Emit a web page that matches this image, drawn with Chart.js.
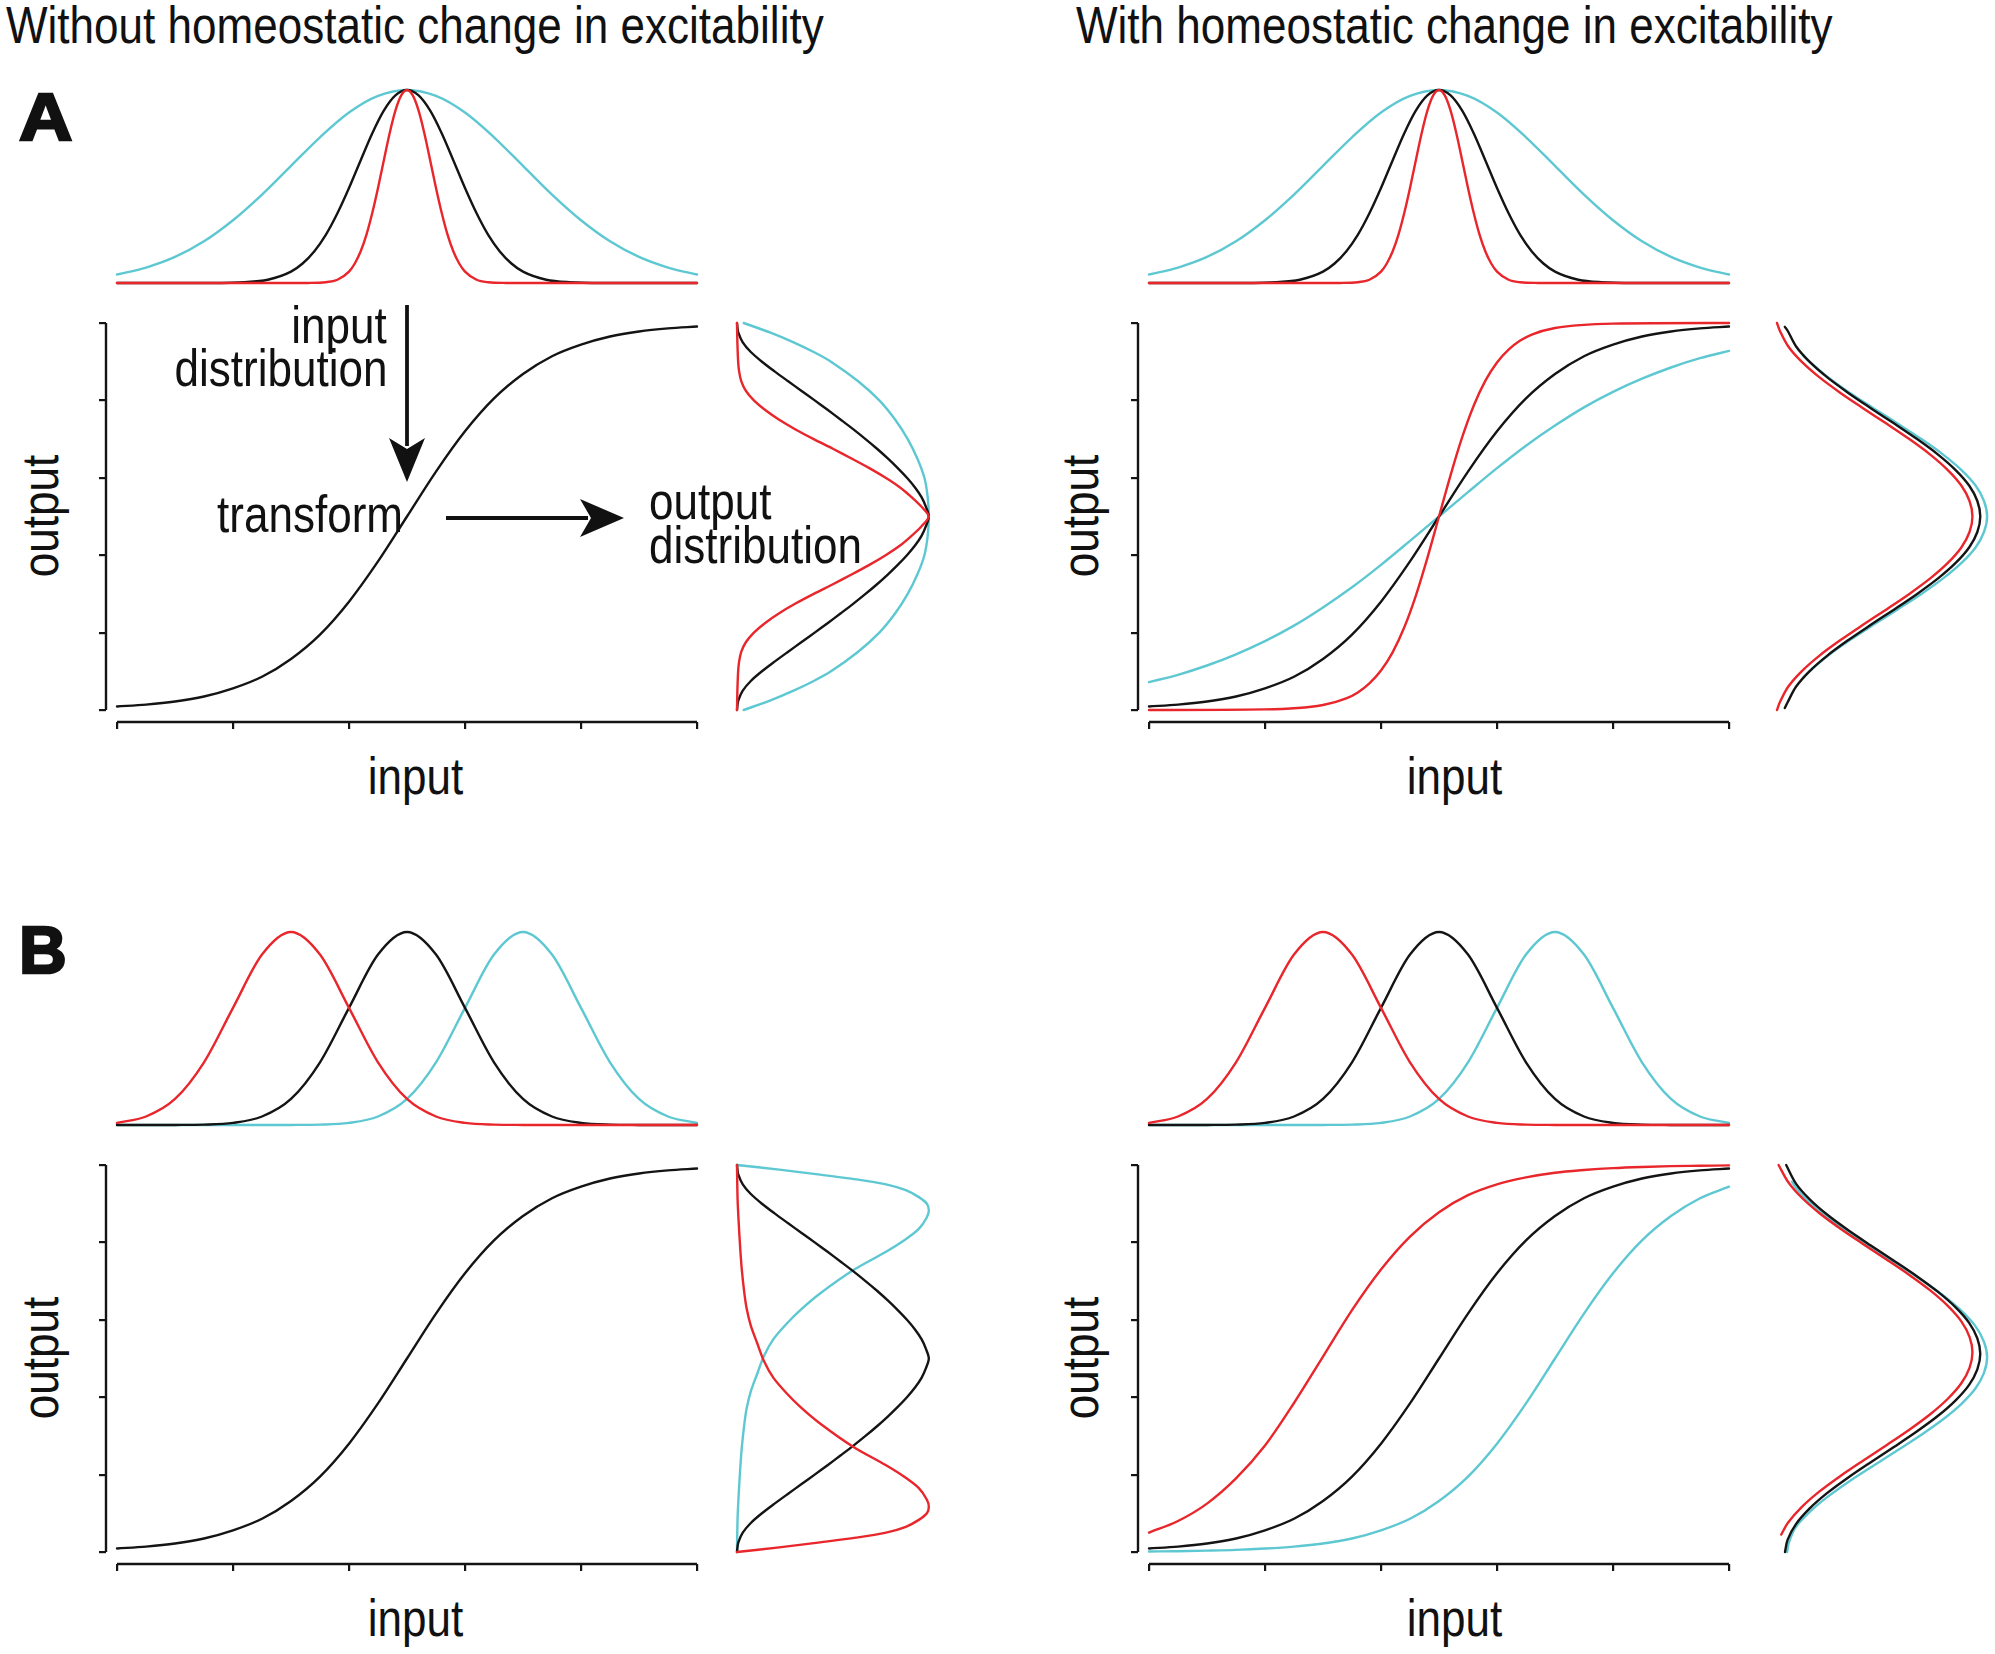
<!DOCTYPE html>
<html><head><meta charset="utf-8">
<script src="https://cdn.jsdelivr.net/npm/chart.js@4.4.1/dist/chart.umd.min.js"></script>
<style>
html,body{margin:0;padding:0;background:#fff;}
#fig{position:relative;width:1995px;height:1654px;overflow:hidden;background:#fff;}
canvas{position:absolute;}
.t{position:absolute;font-family:"Liberation Sans",Arial,Helvetica,sans-serif;white-space:nowrap;color:#111;}
svg{position:absolute;left:0;top:0;}
</style></head><body><div id="fig"></div>
<script>
// ---------- data ----------
const xGrid = [0,0.25,0.5,0.75,1,1.25,1.5,1.75,2,2.25,2.5,2.75,3,3.25,3.5,3.75,4,4.25,4.5,4.75,5];
const ticksX = [0,1,2,3,4,5];
const ticksY = [0,0.2,0.4,0.6,0.8,1];

// A: input distributions (same mean, different widths)
const aInRed = [[0,0],[1.5,0],[1.65,0.0003],[1.8,0.004],[1.9,0.017],[2.0,0.059],[2.05,0.101],[2.1,0.163],[2.15,0.249],[2.2,0.361],[2.25,0.492],[2.3,0.635],[2.35,0.775],[2.4,0.893],[2.45,0.972],[2.5,1],[2.55,0.972],[2.6,0.893],[2.65,0.775],[2.7,0.635],[2.75,0.492],[2.8,0.361],[2.85,0.249],[2.9,0.163],[2.95,0.101],[3.0,0.059],[3.1,0.017],[3.2,0.004],[3.35,0.0003],[3.5,0],[5,0]];
const aInBlack = [[0,0],[0.8,0.0003],[1.1,0.004],[1.3,0.017],[1.5,0.059],[1.6,0.101],[1.7,0.163],[1.8,0.249],[1.9,0.361],[2.0,0.492],[2.1,0.635],[2.2,0.775],[2.3,0.893],[2.4,0.972],[2.5,1],[2.6,0.972],[2.7,0.893],[2.8,0.775],[2.9,0.635],[3.0,0.492],[3.1,0.361],[3.2,0.249],[3.3,0.163],[3.4,0.101],[3.5,0.059],[3.7,0.017],[3.9,0.004],[4.2,0.0003],[5,0]];
const aInCyan = [0.044,0.080,0.135,0.216,0.325,0.458,0.607,0.755,0.883,0.969,1,0.969,0.883,0.755,0.607,0.458,0.325,0.216,0.135,0.080,0.044];

// transforms
const sigBlack = [0.009,0.014,0.022,0.035,0.056,0.086,0.132,0.195,0.280,0.384,0.5,0.616,0.720,0.805,0.868,0.914,0.944,0.965,0.978,0.986,0.991];
const aSigRed = [[0,0],[1.0,0.0015],[1.5,0.013],[1.7,0.030],[1.8,0.0455],[1.9,0.069],[2.0,0.102],[2.1,0.149],[2.2,0.213],[2.3,0.295],[2.4,0.393],[2.5,0.5],[2.6,0.607],[2.7,0.705],[2.8,0.787],[2.9,0.851],[3.0,0.898],[3.1,0.931],[3.2,0.9545],[3.3,0.970],[3.5,0.987],[4.0,0.9985],[5,1]];
const aSigCyan = [0.072,0.091,0.115,0.144,0.178,0.218,0.265,0.317,0.375,0.437,0.5,0.563,0.625,0.683,0.735,0.782,0.822,0.856,0.885,0.909,0.928];

// A: output distributions [density, output]
const aLOutRed = [[0,1],[0.002,0.95],[0.006,0.9],[0.011,0.875],[0.022,0.85],[0.046,0.825],[0.088,0.8],[0.147,0.775],[0.22,0.75],[0.305,0.725],[0.40,0.7],[0.50,0.675],[0.597,0.65],[0.69,0.625],[0.775,0.6],[0.85,0.575],[0.91,0.55],[0.962,0.525],[1,0.5],[0.962,0.475],[0.91,0.45],[0.85,0.425],[0.775,0.4],[0.69,0.375],[0.597,0.35],[0.50,0.325],[0.40,0.3],[0.305,0.275],[0.22,0.25],[0.147,0.225],[0.088,0.2],[0.046,0.175],[0.022,0.15],[0.011,0.125],[0.006,0.1],[0.002,0.05],[0,0]];
const aLOutBlack = [[0,1],[0.002,0.99],[0.007,0.975],[0.030,0.95],[0.072,0.925],[0.13,0.9],[0.196,0.875],[0.265,0.85],[0.335,0.825],[0.405,0.8],[0.474,0.775],[0.541,0.75],[0.607,0.725],[0.67,0.7],[0.73,0.675],[0.786,0.65],[0.838,0.625],[0.886,0.6],[0.928,0.575],[0.962,0.55],[0.985,0.525],[1,0.5],[0.985,0.475],[0.962,0.45],[0.928,0.425],[0.886,0.4],[0.838,0.375],[0.786,0.35],[0.73,0.325],[0.67,0.3],[0.607,0.275],[0.541,0.25],[0.474,0.225],[0.405,0.2],[0.335,0.175],[0.265,0.15],[0.196,0.125],[0.13,0.1],[0.072,0.075],[0.030,0.05],[0.007,0.025],[0.002,0.01],[0,0]];
const aLOutCyan = [[0.035,1],[0.175,0.975],[0.295,0.95],[0.40,0.925],[0.49,0.9],[0.63,0.85],[0.742,0.8],[0.825,0.75],[0.89,0.7],[0.94,0.65],[0.977,0.6],[0.994,0.55],[1,0.5],[0.994,0.45],[0.977,0.4],[0.94,0.35],[0.89,0.3],[0.825,0.25],[0.742,0.2],[0.63,0.15],[0.49,0.1],[0.40,0.075],[0.295,0.05],[0.175,0.025],[0.035,0]];
const aROutRed = [[0,1],[0.0145,0.98],[0.057,0.94],[0.126,0.90],[0.216,0.86],[0.323,0.82],[0.440,0.78],[0.560,0.74],[0.677,0.70],[0.784,0.66],[0.874,0.62],[0.943,0.58],[0.985,0.54],[1,0.5],[0.985,0.46],[0.943,0.42],[0.874,0.38],[0.784,0.34],[0.677,0.30],[0.560,0.26],[0.440,0.22],[0.323,0.18],[0.216,0.14],[0.126,0.10],[0.057,0.06],[0.0145,0.02],[0,0]];
const aROutBlack = [[0.04,0.99],[0.0545,0.98],[0.097,0.94],[0.166,0.90],[0.256,0.86],[0.363,0.82],[0.480,0.78],[0.600,0.74],[0.717,0.70],[0.824,0.66],[0.914,0.62],[0.983,0.58],[1.025,0.54],[1.04,0.5],[1.025,0.46],[0.983,0.42],[0.914,0.38],[0.824,0.34],[0.717,0.30],[0.600,0.26],[0.480,0.22],[0.363,0.18],[0.256,0.14],[0.166,0.10],[0.097,0.06],[0.0545,0.02],[0.04,0.005]];
const aROutCyan = [[0.133,0.917],[0.166,0.90],[0.260,0.86],[0.371,0.82],[0.493,0.78],[0.617,0.74],[0.739,0.70],[0.850,0.66],[0.944,0.62],[1.016,0.58],[1.059,0.54],[1.075,0.5],[1.059,0.46],[1.016,0.42],[0.944,0.38],[0.850,0.34],[0.739,0.30],[0.617,0.26],[0.493,0.22],[0.371,0.18],[0.260,0.14],[0.166,0.10],[0.133,0.083]];

// B: input distributions (same width, shifted means)
const bInRed = [0.011,0.044,0.135,0.325,0.607,0.883,1,0.883,0.607,0.325,0.135,0.044,0.011,0.002,0.0003,0,0,0,0,0,0];
const bInBlack = [0,0,0.0003,0.002,0.011,0.044,0.135,0.325,0.607,0.883,1,0.883,0.607,0.325,0.135,0.044,0.011,0.002,0.0003,0,0];
const bInCyan = [0,0,0,0,0,0,0.0003,0.002,0.011,0.044,0.135,0.325,0.607,0.883,1,0.883,0.607,0.325,0.135,0.044,0.011];
const bSigRed = [0.050,0.080,0.125,0.190,0.275,0.385,0.505,0.625,0.730,0.815,0.878,0.922,0.950,0.968,0.980,0.987,0.992,0.995,0.997,0.998,0.999];
const bSigCyan = [0.0014,0.002,0.0035,0.0055,0.009,0.014,0.022,0.035,0.056,0.086,0.132,0.195,0.280,0.384,0.5,0.616,0.720,0.805,0.868,0.914,0.944];

// B: output distributions [density, output]
const bLOutRed = [[0,1],[0.003,0.913],[0.009,0.85],[0.017,0.783],[0.025,0.73],[0.038,0.67],[0.05,0.63],[0.072,0.585],[0.105,0.54],[0.141,0.493],[0.19,0.45],[0.261,0.409],[0.33,0.375],[0.433,0.332],[0.605,0.272],[0.777,0.224],[0.87,0.195],[0.948,0.165],[0.99,0.135],[1,0.117],[0.99,0.1],[0.948,0.083],[0.88,0.065],[0.777,0.05],[0.62,0.037],[0.433,0.025],[0.22,0.012],[0,0]];
const bLOutBlack = [[0,1],[0.002,0.99],[0.007,0.975],[0.030,0.95],[0.072,0.925],[0.13,0.9],[0.196,0.875],[0.265,0.85],[0.335,0.825],[0.405,0.8],[0.474,0.775],[0.541,0.75],[0.607,0.725],[0.67,0.7],[0.73,0.675],[0.786,0.65],[0.838,0.625],[0.886,0.6],[0.928,0.575],[0.962,0.55],[0.985,0.525],[1,0.5],[0.985,0.475],[0.962,0.45],[0.928,0.425],[0.886,0.4],[0.838,0.375],[0.786,0.35],[0.73,0.325],[0.67,0.3],[0.607,0.275],[0.541,0.25],[0.474,0.225],[0.405,0.2],[0.335,0.175],[0.265,0.15],[0.196,0.125],[0.13,0.1],[0.072,0.075],[0.030,0.05],[0.007,0.025],[0.002,0.01],[0,0]];
const bLOutCyan = [[0,1],[0.22,0.988],[0.433,0.975],[0.62,0.963],[0.777,0.95],[0.88,0.935],[0.948,0.917],[0.99,0.9],[1,0.883],[0.99,0.865],[0.948,0.835],[0.87,0.805],[0.777,0.776],[0.605,0.728],[0.433,0.668],[0.33,0.625],[0.261,0.591],[0.19,0.55],[0.141,0.507],[0.105,0.46],[0.072,0.415],[0.05,0.37],[0.038,0.33],[0.025,0.27],[0.017,0.217],[0.009,0.15],[0.003,0.087],[0,0]];
const bROutRed = [[0.008,1],[0.057,0.956],[0.126,0.916],[0.216,0.876],[0.323,0.836],[0.440,0.796],[0.560,0.756],[0.677,0.716],[0.784,0.676],[0.874,0.636],[0.943,0.596],[0.985,0.556],[1,0.516],[0.985,0.476],[0.943,0.436],[0.874,0.396],[0.784,0.356],[0.677,0.316],[0.560,0.276],[0.440,0.236],[0.323,0.196],[0.216,0.156],[0.126,0.116],[0.057,0.076],[0.0215,0.045]];
const bROutBlack = [[0.047,1],[0.097,0.952],[0.166,0.912],[0.256,0.872],[0.363,0.832],[0.480,0.792],[0.600,0.752],[0.717,0.712],[0.824,0.672],[0.914,0.632],[0.983,0.592],[1.025,0.552],[1.04,0.512],[1.025,0.472],[0.983,0.432],[0.914,0.392],[0.824,0.352],[0.717,0.312],[0.600,0.272],[0.480,0.232],[0.363,0.192],[0.256,0.152],[0.166,0.112],[0.097,0.072],[0.0545,0.032],[0.041,0]];
const bROutCyan = [[0.077,0.957],[0.094,0.943],[0.166,0.903],[0.260,0.863],[0.371,0.823],[0.493,0.783],[0.617,0.743],[0.739,0.703],[0.850,0.663],[0.944,0.623],[1.016,0.583],[1.059,0.543],[1.075,0.503],[1.059,0.463],[1.016,0.423],[0.944,0.383],[0.850,0.343],[0.739,0.303],[0.617,0.263],[0.493,0.223],[0.371,0.183],[0.260,0.143],[0.166,0.103],[0.094,0.063],[0.06,0.023],[0.052,0]];

// ---------- styling / layout ----------
const RED = '#e8262b', CYAN = '#5ec8d2', BLACK = '#141414';
const LW = 2.4;
const fig = document.getElementById('fig');

function addCanvas(l, t, w, h) {
  const c = document.createElement('canvas');
  c.width = Math.round(w); c.height = Math.round(h);
  c.style.left = l + 'px'; c.style.top = t + 'px';
  c.style.width = Math.round(w) + 'px'; c.style.height = Math.round(h) + 'px';
  fig.appendChild(c);
  return c;
}
const gridXY = ys => xGrid.map((x, i) => ({x, y: ys[i]}));
const pairs = p => p.map(([x, y]) => ({x, y}));
function fnDs(data, color) {
  return {data, borderColor: color, borderWidth: LW, pointRadius: 0, fill: false, clip: false,
          cubicInterpolationMode: 'monotone', borderCapStyle: 'round', borderJoinStyle: 'round'};
}
function pathDs(data, color) {
  return {data, borderColor: color, borderWidth: LW, pointRadius: 0, fill: false, clip: false,
          tension: 0.3, borderCapStyle: 'round', borderJoinStyle: 'round'};
}
const baseOpts = {
  responsive: false, maintainAspectRatio: false, animation: false, events: [],
  plugins: {legend: {display: false}, tooltip: {enabled: false}}
};

function plainChart(area, xr, yr, datasets) {
  const P = 8;
  const c = addCanvas(area.l - P, area.t - P, area.r - area.l + 2 * P, area.b - area.t + 2 * P);
  new Chart(c, {
    type: 'line', data: {datasets},
    options: Object.assign({}, baseOpts, {
      layout: {padding: P},
      scales: {
        x: {type: 'linear', min: xr[0], max: xr[1], display: false},
        y: {type: 'linear', min: yr[0], max: yr[1], display: false}
      }
    })
  });
}

// main transform chart with R-style detached axes
const X_MIN = -11 / 116, Y_MIN = -12 / 387;
function mainChart(dx, dy, datasets) {
  const l = 106 + dx, r = 697 + dx, t = 323 + dy, b = 722 + dy;
  const AW = 12, AH = 12, P = 6;
  const c = addCanvas(l - AW - P, t - P, (r - l) + AW + 2 * P, (b - t) + AH + 2 * P);
  const tickGrid = {display: true, drawOnChartArea: false, drawTicks: true, tickLength: 7, lineWidth: 2.2, color: BLACK};
  const axisLines = [
    {data: [{x: X_MIN, y: ticksY[0]}, {x: X_MIN, y: ticksY[ticksY.length - 1]}], borderColor: BLACK, borderWidth: LW, pointRadius: 0, clip: false, tension: 0},
    {data: [{x: ticksX[0], y: Y_MIN}, {x: ticksX[ticksX.length - 1], y: Y_MIN}], borderColor: BLACK, borderWidth: LW, pointRadius: 0, clip: false, tension: 0}
  ];
  new Chart(c, {
    type: 'line', data: {datasets: datasets.concat(axisLines)},
    options: Object.assign({}, baseOpts, {
      layout: {padding: {left: P, right: P, top: P, bottom: P}},
      scales: {
        x: {type: 'linear', position: 'bottom', min: X_MIN, max: 5,
            afterFit: s => { s.height = AH; },
            afterBuildTicks: s => { s.ticks = ticksX.map(v => ({value: v})); },
            grid: tickGrid, border: {display: false}, ticks: {display: false}},
        y: {type: 'linear', position: 'left', min: Y_MIN, max: 1,
            afterFit: s => { s.width = AW; },
            afterBuildTicks: s => { s.ticks = ticksY.map(v => ({value: v})); },
            grid: tickGrid, border: {display: false}, ticks: {display: false}}
      }
    })
  });
}

function topChart(dx, dy, datasets) {
  plainChart({l: 117 + dx, r: 697 + dx, t: 90 + dy, b: 283 + dy}, [0, 5], [0, 1], datasets);
}
function outChart(base, scale, dy, datasets) {
  plainChart({l: base, r: base + scale * 1.1, t: 323 + dy, b: 710 + dy}, [0, 1.1], [0, 1], datasets);
}

const DXR = 1032, DYB = 842;

// Panel A left
topChart(0, 0, [fnDs(pairs(aInRed), RED), fnDs(pairs(aInBlack), BLACK), fnDs(gridXY(aInCyan), CYAN)]);
mainChart(0, 0, [fnDs(gridXY(sigBlack), BLACK)]);
outChart(737, 192, 0, [pathDs(pairs(aLOutRed), RED), pathDs(pairs(aLOutBlack), BLACK), pathDs(pairs(aLOutCyan), CYAN)]);
// Panel A right
topChart(DXR, 0, [fnDs(pairs(aInRed), RED), fnDs(pairs(aInBlack), BLACK), fnDs(gridXY(aInCyan), CYAN)]);
mainChart(DXR, 0, [fnDs(pairs(aSigRed), RED), fnDs(gridXY(sigBlack), BLACK), fnDs(gridXY(aSigCyan), CYAN)]);
outChart(1777, 195.7, 0, [pathDs(pairs(aROutRed), RED), pathDs(pairs(aROutBlack), BLACK), pathDs(pairs(aROutCyan), CYAN)]);
// Panel B left
topChart(0, DYB, [fnDs(gridXY(bInRed), RED), fnDs(gridXY(bInBlack), BLACK), fnDs(gridXY(bInCyan), CYAN)]);
mainChart(0, DYB, [fnDs(gridXY(sigBlack), BLACK)]);
outChart(737, 192, DYB, [pathDs(pairs(bLOutRed), RED), pathDs(pairs(bLOutBlack), BLACK), pathDs(pairs(bLOutCyan), CYAN)]);
// Panel B right
topChart(DXR, DYB, [fnDs(gridXY(bInRed), RED), fnDs(gridXY(bInBlack), BLACK), fnDs(gridXY(bInCyan), CYAN)]);
mainChart(DXR, DYB, [fnDs(gridXY(bSigRed), RED), fnDs(gridXY(sigBlack), BLACK), fnDs(gridXY(bSigCyan), CYAN)]);
outChart(1777, 195.7, DYB, [pathDs(pairs(bROutRed), RED), pathDs(pairs(bROutBlack), BLACK), pathDs(pairs(bROutCyan), CYAN)]);

// ---------- text ----------
function addText(str, x, baseline, o) {
  o = o || {};
  const size = o.size || 52, sx = o.sx || 0.847;
  const d = document.createElement('div');
  d.className = 't';
  d.textContent = str;
  d.style.fontSize = size + 'px';
  d.style.lineHeight = size + 'px';
  d.style.fontWeight = o.bold ? 'bold' : 'normal';
  if (o.stroke) { d.style.webkitTextStroke = o.stroke + 'px #111'; }
  fig.appendChild(d);
  const w = d.offsetWidth, h = d.offsetHeight;
  if (o.rotate) {
    d.style.left = (x - w / 2) + 'px';
    d.style.top = (baseline - h / 2) + 'px';
    d.style.transformOrigin = 'center center';
    d.style.transform = 'rotate(-90deg) scaleX(' + sx + ')';
    return;
  }
  d.style.top = (baseline - size * 0.8465) + 'px';
  let left = x, origin = 'left center';
  if (o.align === 'right') { left = x - w; origin = 'right center'; }
  else if (o.align === 'center') { left = x - w / 2; origin = 'center center'; }
  d.style.left = left + 'px';
  d.style.transformOrigin = origin;
  d.style.transform = 'scaleX(' + sx + ')';
}

addText('Without homeostatic change in excitability', 6, 43);
addText('With homeostatic change in excitability', 1076, 43);
addText('A', 19, 140, {size: 66, bold: true, sx: 1.12, stroke: 2.5});
addText('B', 19, 973, {size: 66, bold: true, sx: 1.0, stroke: 2.5});
addText('input', 387, 343, {align: 'right'});
addText('distribution', 387, 386, {align: 'right'});
addText('transform', 217, 532);
addText('output', 649, 519);
addText('distribution', 649, 563);
[[40, 516], [1080, 516], [40, 1358], [1080, 1358]].forEach(p => addText('output', p[0], p[1], {rotate: true}));
[[415, 794], [1454, 794], [415, 1636], [1454, 1636]].forEach(p => addText('input', p[0], p[1], {align: 'center'}));

// ---------- annotation arrows ----------
const svgNS = 'http://www.w3.org/2000/svg';
const svg = document.createElementNS(svgNS, 'svg');
svg.setAttribute('width', 1995); svg.setAttribute('height', 1654);
svg.innerHTML =
  '<line x1="407" y1="305" x2="407" y2="446" stroke="#111" stroke-width="3.8"/>' +
  '<polygon points="389,438 407,449 425,438 407,482" fill="#111"/>' +
  '<line x1="446" y1="518" x2="588" y2="518" stroke="#111" stroke-width="3.8"/>' +
  '<polygon points="580,499 591,518 580,537 624,518" fill="#111"/>';
fig.appendChild(svg);
</script>
</body></html>
